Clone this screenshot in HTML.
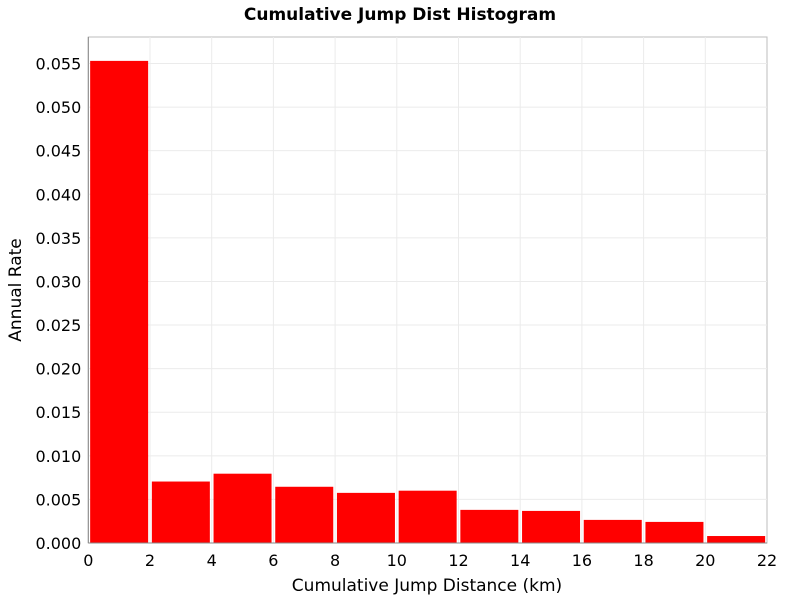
<!DOCTYPE html>
<html><head><meta charset="utf-8"><style>
body{margin:0;background:#fff;}
svg text{font-family:"DejaVu Sans","Liberation Sans",sans-serif;}
</style></head><body>
<svg id="chart" width="800" height="600">
<rect width="800" height="600" fill="#fff"/>
<text x="400" y="20" text-anchor="middle" font-size="17" font-weight="bold">Cumulative Jump Dist Histogram</text>
<rect x="88.3" y="37" width="678.7" height="506" fill="#fff" stroke="#bdbdbd"/>
<g id="grid"></g><g id="bars"></g><g id="axes"></g>
<text x="427" y="591" text-anchor="middle" font-size="17">Cumulative Jump Distance (km)</text>
<text transform="translate(21,290) rotate(-90)" text-anchor="middle" font-size="17">Annual Rate</text>
</svg>
<script>
const binStarts=[0,2,4,6,8,10,12,14,16,18,20];
const rates=[0.0553,0.00705,0.00795,0.00645,0.00575,0.006,0.0038,0.00368,0.00265,0.00242,0.0008];
const xTicks=[0,2,4,6,8,10,12,14,16,18,20,22];
const yTicks=[0,0.005,0.01,0.015,0.02,0.025,0.03,0.035,0.04,0.045,0.05,0.055];
const binWidth=2;
const NS="http://www.w3.org/2000/svg";
const X0=88.3,X1=767,Y0=543,Ytop=37;
const xs=v=>X0+v*(X1-X0)/22;
const ys=v=>Y0-v*(Y0-63.5)/0.055;
function mk(t,a,p){const e=document.createElementNS(NS,t);for(const k in a)e.setAttribute(k,a[k]);p.appendChild(e);return e;}
const grid=document.getElementById('grid'),bars=document.getElementById('bars'),axes=document.getElementById('axes');
xTicks.forEach(t=>{
 if(t>0&&t<22){const l=mk('line',{x1:xs(t),x2:xs(t),y1:Ytop,y2:Y0,stroke:'#ebebeb'},grid);
 
 }
 const tx=mk('text',{x:xs(t),y:Y0+23,'text-anchor':'middle','font-size':'16'},axes);tx.textContent=t;
 
 
});
yTicks.forEach(t=>{
 if(t>0){const l=mk('line',{x1:X0,x2:X1,y1:ys(t),y2:ys(t),stroke:'#ebebeb'},grid);
 
 }
 const tx=mk('text',{x:X0-7,y:ys(t)+6,'text-anchor':'end','font-size':'16'},axes);tx.textContent=t.toFixed(3);
 
 
});
binStarts.forEach((b,i)=>{
 const x=xs(b+0.06),w=xs(b+binWidth-0.06)-x;
 const r=mk('rect',{x:x,y:ys(rates[i]),width:w,height:Y0-ys(rates[i]),fill:'#ff0000'},bars);
 
 
});
const ax=mk('line',{x1:X0,x2:X1,y1:Y0,y2:Y0,stroke:'#888'},axes);


const ay=mk('line',{x1:X0,x2:X0,y1:Ytop,y2:Y0,stroke:'#888'},axes);


</script>
</body></html>
